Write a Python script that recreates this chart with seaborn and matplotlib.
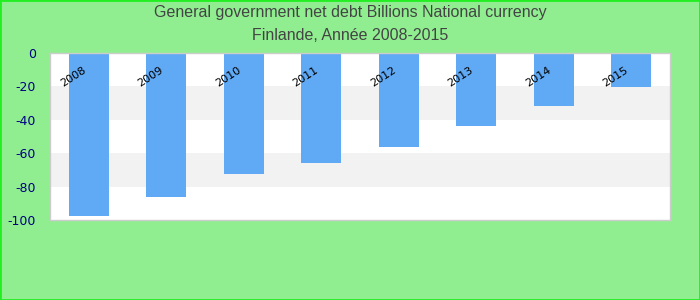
import matplotlib
matplotlib.use("Agg")
import matplotlib.pyplot as plt
import seaborn as sns
import pandas as pd
from matplotlib.patches import Rectangle

years = ["2008", "2009", "2010", "2011", "2012", "2013", "2014", "2015"]
values = [-97.6, -86.2, -72.3, -65.9, -56.3, -43.7, -31.7, -20.2]
yticks = [0, -20, -40, -60, -80, -100]
title_lines = ["General government net debt Billions National currency", "Finlande, Année 2008-2015"]

df = pd.DataFrame({"year": years, "value": values})

sns.set_theme(style="white")
fig = plt.figure(figsize=(7, 3), dpi=100, facecolor="#90ee90")
ax = fig.add_axes([50/700, 1 - 220/300, 620/700, 167/300])
ax.set_facecolor("white")

# alternating bands
for i, (hi, lo) in enumerate(zip(yticks[:-1], yticks[1:])):
    if i % 2 == 1:
        ax.axhspan(lo, hi, color="#f2f2f2", zorder=0, lw=0)

sns.barplot(data=df, x="year", y="value", color="#60a9f5", saturation=1,
            width=0.52, ax=ax, zorder=2, linewidth=0, edgecolor="none")

ax.set_ylim(-100, 0)
ax.set_xlim(-0.5, len(years) - 0.5)
ax.set_yticks(yticks)
ax.set_yticklabels([str(t) for t in yticks], color="#000080", fontsize=9,
                   family="DejaVu Sans")
ax.tick_params(axis="y", length=0, pad=10)
ax.set_xticks([])
ax.set_xlabel("")
ax.set_ylabel("")
for s in ax.spines.values():
    s.set_color("#cccccc")
    s.set_linewidth(1)
    s.set_visible(True)

for i, y in enumerate(years):
    ax.text(i - 0.2, -14.5, y, rotation=33, ha="center", va="center",
            fontsize=8, color="black", family="DejaVu Sans", zorder=3)

fig.text(0.5, 1 - 13/300, title_lines[0], ha="center", va="center",
         fontsize=11.5, color="#444444", family="Liberation Sans")
fig.text(0.5, 1 - 36/300, title_lines[1], ha="center", va="center",
         fontsize=11.5, color="#444444", family="Liberation Sans")

fig.patches.append(Rectangle((0, 0), 1, 1, transform=fig.transFigure,
                             fill=False, edgecolor="#22ee22", lw=2))

fig.savefig("out.png", dpi=100, facecolor=fig.get_facecolor())
